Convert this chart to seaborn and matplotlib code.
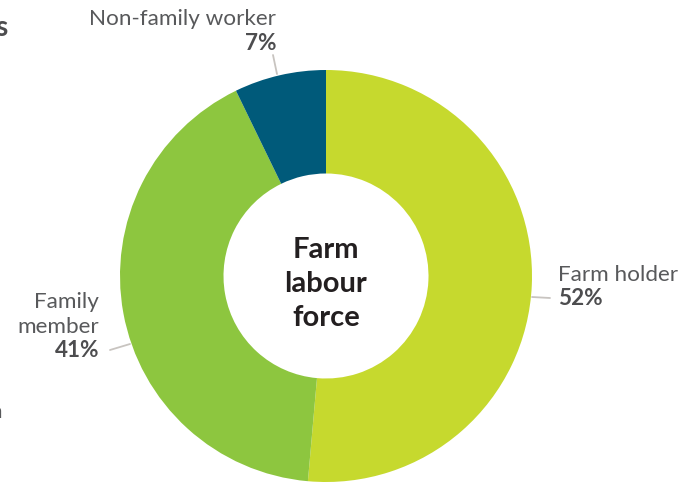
import matplotlib
matplotlib.use("Agg")
import matplotlib.pyplot as plt
import seaborn as sns
from matplotlib.lines import Line2D

# data
categories = ["Farm holder", "Family member", "Non-family worker"]
shares = [51.4, 41.4, 7.2]
pct_labels = ["52%", "41%", "7%"]
colors = ["#C6D92E", "#8DC63F", "#005A7A"]

sns.set_theme(style="white")
plt.rcParams["font.family"] = ["Lato", "DejaVu Sans"]

W, H = 697, 484
fig = plt.figure(figsize=(W / 100, H / 100), dpi=100)


def fx(px):
    return px / W


def fy(py):
    return 1 - py / H


# donut centred at (326, 276) px, outer radius 206 px
cx, cy, r = 326, 276, 206
ax = fig.add_axes([fx(cx - r), fy(cy + r), 2 * r / W, 2 * r / H])
ax.pie(shares, colors=colors, startangle=90, counterclock=False, radius=1,
       wedgeprops=dict(width=1 - 102.5 / 206, linewidth=0))
ax.set_xlim(-1, 1)
ax.set_ylim(-1, 1)
ax.set_aspect("auto")
ax.axis("off")

# centre title
for line, base in zip(["Farm", "labour", "force"], [258, 292, 326]):
    fig.text(fx(cx), fy(base), line, ha="center", va="baseline",
             fontsize=21, fontweight="bold", color="#231F20")

grey = "#58595B"
dark = "#4D4D4F"
lc = "#C8C4C0"
fs = 16.2

# leader lines
for (x0, y0), (x1, y1) in [((273, 55), (277, 74)),
                           ((110, 350), (130, 344)),
                           ((532, 297), (550, 298))]:
    fig.add_artist(Line2D([fx(x0), fx(x1)], [fy(y0), fy(y1)],
                          color=lc, linewidth=1.3))

# Non-family worker
fig.text(fx(276), fy(25), categories[2], ha="right", va="baseline",
         fontsize=fs, color=grey)
fig.text(fx(276), fy(50), pct_labels[2], ha="right", va="baseline",
         fontsize=fs, fontweight="bold", color=dark)

# Family member
fig.text(fx(99), fy(308), "Family", ha="right", va="baseline",
         fontsize=fs, color=grey)
fig.text(fx(99), fy(333), "member", ha="right", va="baseline",
         fontsize=fs, color=grey)
fig.text(fx(99), fy(357), pct_labels[1], ha="right", va="baseline",
         fontsize=fs, fontweight="bold", color=dark)

# Farm holder
fig.text(fx(558), fy(281), categories[0], ha="left", va="baseline",
         fontsize=fs, color=grey)
fig.text(fx(558), fy(305), pct_labels[0], ha="left", va="baseline",
         fontsize=fs, fontweight="bold", color=dark)

# cut-off fragments of neighbouring text at the left edge
fig.text(fx(8), fy(36), "s", ha="right", va="baseline",
         fontsize=20, fontweight="bold", color=dark)
fig.text(fx(2), fy(418), "n", ha="right", va="baseline",
         fontsize=fs, color=grey)

fig.savefig("out.png", dpi=100)
